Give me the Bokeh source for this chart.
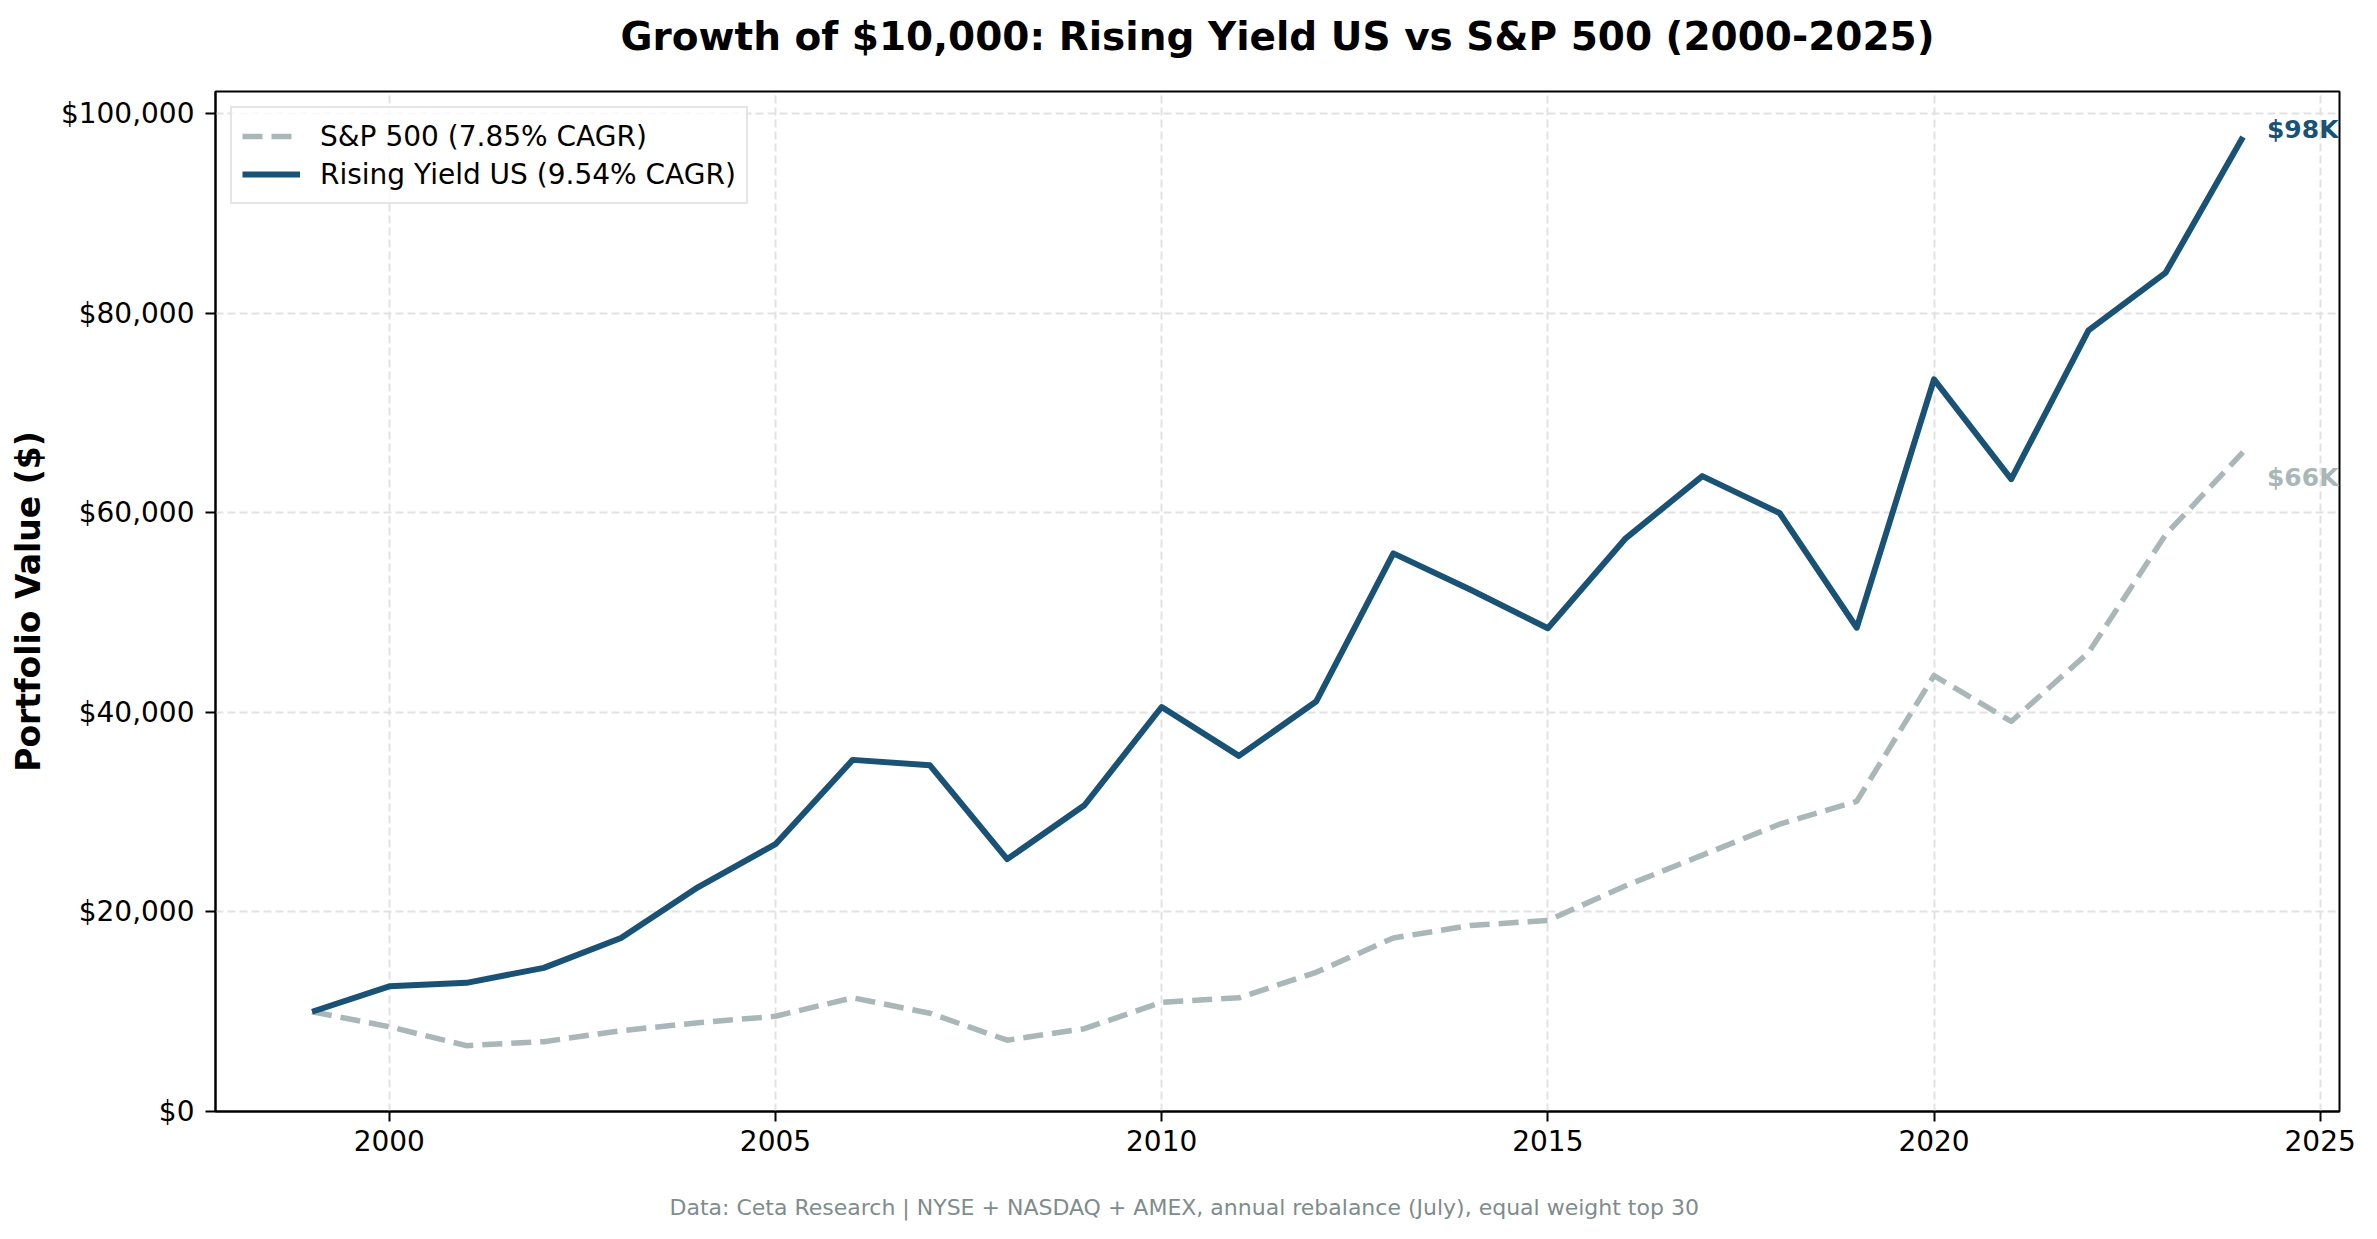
from bokeh.plotting import figure
from bokeh.models import Range1d, FixedTicker, NumeralTickFormatter, Legend, LegendItem, Title
from bokeh.core.properties import value
from bokeh.embed import file_html
from bokeh.resources import INLINE

years = list(range(1999, 2025))
rising_yield = [10000, 12550, 12900, 14400, 17400, 22500, 26800, 35250, 34700, 25300,
                30700, 40550, 35650, 41100, 55950, 52300, 48450, 57400, 63700, 60000,
                48500, 73400, 63400, 78300, 84100, 97700]
sp500 = [10000, 8500, 6600, 7000, 8100, 8900, 9550, 11400, 9850, 7150,
         8300, 10950, 11400, 13950, 17400, 18650, 19150, 22600, 25700, 28800,
         31100, 43700, 39100, 46000, 57850, 66100]
series_names = ["S&P 500 (7.85% CAGR)", "Rising Yield US (9.54% CAGR)"]
x_ticks = [2000, 2005, 2010, 2015, 2020, 2025]
y_ticks = [0, 20000, 40000, 60000, 80000, 100000]

BLUE = "#1a5276"
GREY = "#aab7b8"
FONT = "DejaVu Sans"

# axis limits like matplotlib's 5% margins
x_pad = (max(years) - min(years)) * 0.05
all_vals = rising_yield + sp500
y_top = max(all_vals) + (max(all_vals) - min(all_vals)) * 0.05

p = figure(width=2368, height=1230, output_backend="svg", toolbar_location=None,
           x_range=Range1d(min(years) - x_pad, max(years) + x_pad),
           y_range=Range1d(0, y_top),
           min_border_left=215, min_border_right=29, min_border_top=91, min_border_bottom=119)

# empty spacer between the frame and the title
p.add_layout(Title(text=" ", text_font_size="27px", standoff=0), "above")

p.title.text = "Growth of $10,000: Rising Yield US vs S&P 500 (2000-2025)"
p.title.align = "center"
p.title.vertical_align = "middle"
p.title.text_font = FONT
p.title.text_font_size = "39px"
p.title.text_font_style = "bold"
p.title.text_color = "black"
p.title.standoff = 0

p.background_fill_color = "white"
p.border_fill_color = "white"
p.outline_line_color = "black"
p.outline_line_width = 2
p.outline_line_alpha = 1

# grid
for g in (p.xgrid, p.ygrid):
    g.grid_line_color = "#e2e2e2"
    g.grid_line_width = 2
    g.grid_line_dash = "8 4"
p.xgrid.ticker = FixedTicker(ticks=x_ticks)
p.ygrid.ticker = FixedTicker(ticks=y_ticks)

# axes
p.xaxis.ticker = FixedTicker(ticks=x_ticks)
p.yaxis.ticker = FixedTicker(ticks=y_ticks)
p.yaxis.formatter = NumeralTickFormatter(format="$0,0")
for ax in (p.xaxis, p.yaxis):
    ax.axis_line_color = "black"
    ax.axis_line_width = 2
    ax.major_tick_line_width = 2
    ax.major_tick_out = 10
    ax.major_tick_in = 0
    ax.minor_tick_out = 0
    ax.minor_tick_in = 0
    ax.major_label_text_font = FONT
    ax.major_label_text_font_size = "28px"
    ax.major_label_text_color = "black"
    ax.major_label_standoff = 8
p.yaxis.major_label_standoff = 11
p.yaxis.axis_label = "Portfolio Value ($)"
p.yaxis.axis_label_text_font = FONT
p.yaxis.axis_label_text_font_size = "33px"
p.yaxis.axis_label_text_font_style = "bold"
p.yaxis.axis_label_text_color = "black"
p.yaxis.axis_label_standoff = 10

# lines
sp_line = p.line(years, sp500, line_color=GREY, line_width=5.5, line_dash="20 9",
                 line_join="round")
ry_line = p.line(years, rising_yield, line_color=BLUE, line_width=6, line_join="round")

# end-of-line value labels
p.text(x=[years[-1]], y=[rising_yield[-1]], text=[f"${rising_yield[-1] / 1000:.0f}K"],
       x_offset=24, y_offset=-7, text_color=BLUE, text_font=value(FONT),
       text_font_size="25px", text_font_style="bold",
       text_align="left", text_baseline="middle")
p.text(x=[years[-1]], y=[sp500[-1]], text=[f"${sp500[-1] / 1000:.0f}K"],
       x_offset=24, y_offset=25, text_color=GREY, text_font=value(FONT),
       text_font_size="25px", text_font_style="bold",
       text_align="left", text_baseline="middle")

legend = Legend(items=[LegendItem(label=series_names[0], renderers=[sp_line]),
                       LegendItem(label=series_names[1], renderers=[ry_line])],
                location="top_left")
legend.margin = 15
legend.padding = 10
legend.spacing = 2
legend.glyph_width = 58
legend.glyph_height = 36
legend.label_height = 36
legend.label_standoff = 20
legend.label_text_font = FONT
legend.label_text_font_size = "28px"
legend.label_text_color = "black"
legend.border_line_color = "#cccccc"
legend.border_line_width = 2
legend.background_fill_color = "white"
legend.background_fill_alpha = 0.8
p.add_layout(legend)

# spacer below the x axis, then the footnote
p.add_layout(Title(text=" ", text_font_size="34px", standoff=0), "below")
note = Title(text="Data: Ceta Research | NYSE + NASDAQ + AMEX, annual rebalance (July), equal weight top 30",
             align="left", offset=454, vertical_align="middle", standoff=0,
             text_font=FONT, text_font_size="22px", text_font_style="normal",
             text_color="#7f8c8d")
p.add_layout(note, "below")

open("out.html", "w").write(file_html(p, INLINE))
